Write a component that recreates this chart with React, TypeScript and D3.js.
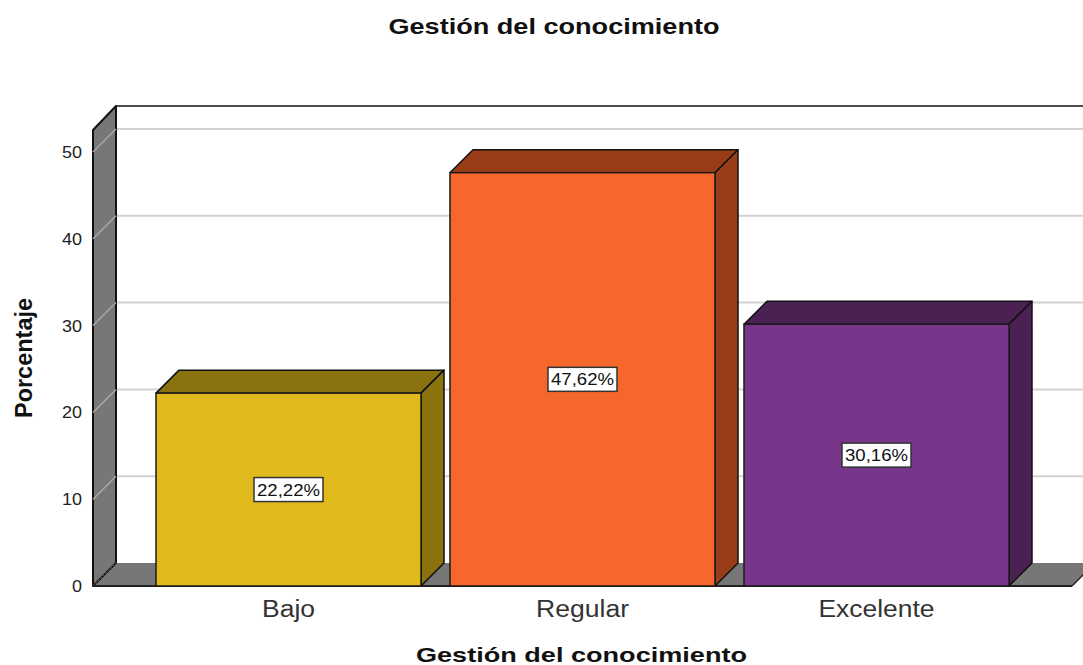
import React from "react";
import * as d3 from "d3";

const categories = ["Bajo", "Regular", "Excelente"];
const categoryWidths = [53, 93, 116];
const values = [22.22, 47.62, 30.16];
const valueLabels = ["22,22%", "47,62%", "30,16%"];
const yTicks = [0, 10, 20, 30, 40, 50];
const frontColors = ["#E0BA1C", "#F5672A", "#773689"];
const sideColors = ["#8A720F", "#983D18", "#4B2154"];
const chartTitle = "Gestión del conocimiento";
const yTitle = "Porcentaje";

const W = 1083, H = 665;
const depth = 23;
const y0 = 586;
const xL = 93, xR = 1072;
const y = d3.scaleLinear().domain([0, 50]).range([y0, 152]);
const x = d3.scaleBand<string>().domain(categories).range([xL, xR]).paddingInner(0.0986).paddingOuter(0.2143);
const FONT = "'Liberation Sans', Arial, sans-serif";
const poly = (p: [number, number][]) => (d3.line()(p) as string) + "Z";

export default function App() {
  const topY = 130;
  return (
    <svg width={W} height={H} viewBox={`0 0 ${W} ${H}`} style={{ position: "absolute", left: 0, top: 0, background: "#fff" }} fontFamily={FONT}>
      <text x={554} y={34} textAnchor="middle" fontSize={22} fontWeight="bold" fill="#111" textLength={331} lengthAdjust="spacingAndGlyphs">{chartTitle}</text>

      {/* walls */}
      <path d={poly([[xL, y0], [xL + depth, y0 - depth], [W + 12, y0 - depth], [xR, y0]])} fill="#777" />
      <path d={poly([[xL, topY], [xL + depth, topY - 24], [xL + depth, y0 - depth], [xL, y0]])} fill="#777" stroke="#111" strokeWidth={2} strokeLinejoin="round" />
      <line x1={xL + depth} y1={106} x2={W} y2={106} stroke="#111" strokeWidth={1.6} />

      {/* gridlines */}
      {yTicks.map((t) => (
        <g key={t}>
          <line x1={xL} y1={y(t)} x2={xL + depth} y2={y(t) - depth} stroke={t === 0 ? "#555" : "#aaa"} strokeWidth={1.4} strokeDasharray={t === 0 ? "2 1.5" : undefined} />
          {t > 0 && <line x1={xL + depth + 1} y1={y(t) - depth} x2={W} y2={y(t) - depth} stroke="#d2d2d2" strokeWidth={2} />}
        </g>
      ))}
      <line x1={xL} y1={y0} x2={xR} y2={y0} stroke="#222" strokeWidth={2} />
      <line x1={xR} y1={y0} x2={xR + depth} y2={y0 - depth} stroke="#222" strokeWidth={1.5} />

      {/* y axis */}
      {yTicks.map((t) => (
        <text key={t} x={82} y={y(t) + 6} textAnchor="end" fontSize={16} fill="#222" textLength={t === 0 ? 10 : 20} lengthAdjust="spacingAndGlyphs">{t}</text>
      ))}
      <text transform="translate(32,358) rotate(-90)" textAnchor="middle" fontSize={24} fontWeight="bold" fill="#111" textLength={120} lengthAdjust="spacingAndGlyphs">{yTitle}</text>

      {/* bars */}
      {categories.map((c, i) => {
        const bx = x(c) as number;
        const bw = x.bandwidth();
        const by = y(values[i]);
        const cx = bx + bw / 2;
        const cy = (by + y0) / 2;
        return (
          <g key={c}>
            <path d={poly([[bx, by], [bx + depth, by - depth], [bx + bw + depth, by - depth], [bx + bw, by]])} fill={sideColors[i]} stroke="#111" strokeWidth={1.5} strokeLinejoin="round" />
            <path d={poly([[bx + bw, by], [bx + bw + depth, by - depth], [bx + bw + depth, y0 - depth], [bx + bw, y0]])} fill={sideColors[i]} stroke="#111" strokeWidth={1.5} strokeLinejoin="round" />
            <rect x={bx} y={by} width={bw} height={y0 - by} fill={frontColors[i]} stroke="#1a1a1a" strokeWidth={1.5} />
            <rect x={cx - 34.5} y={cy - 12} width={69} height={24} fill="#fff" stroke="#333" strokeWidth={1.5} />
            <text x={cx} y={cy + 6} textAnchor="middle" fontSize={16} fill="#111" textLength={63} lengthAdjust="spacingAndGlyphs">{valueLabels[i]}</text>
          </g>
        );
      })}

      {/* x axis labels */}
      {categories.map((c, i) => (
        <text key={c} x={(x(c) as number) + x.bandwidth() / 2} y={617} textAnchor="middle" fontSize={23} fill="#333" textLength={categoryWidths[i]} lengthAdjust="spacingAndGlyphs">{c}</text>
      ))}
      <text x={581.5} y={662} textAnchor="middle" fontSize={21} fontWeight="bold" fill="#111" textLength={331} lengthAdjust="spacingAndGlyphs">{chartTitle}</text>
    </svg>
  );
}
